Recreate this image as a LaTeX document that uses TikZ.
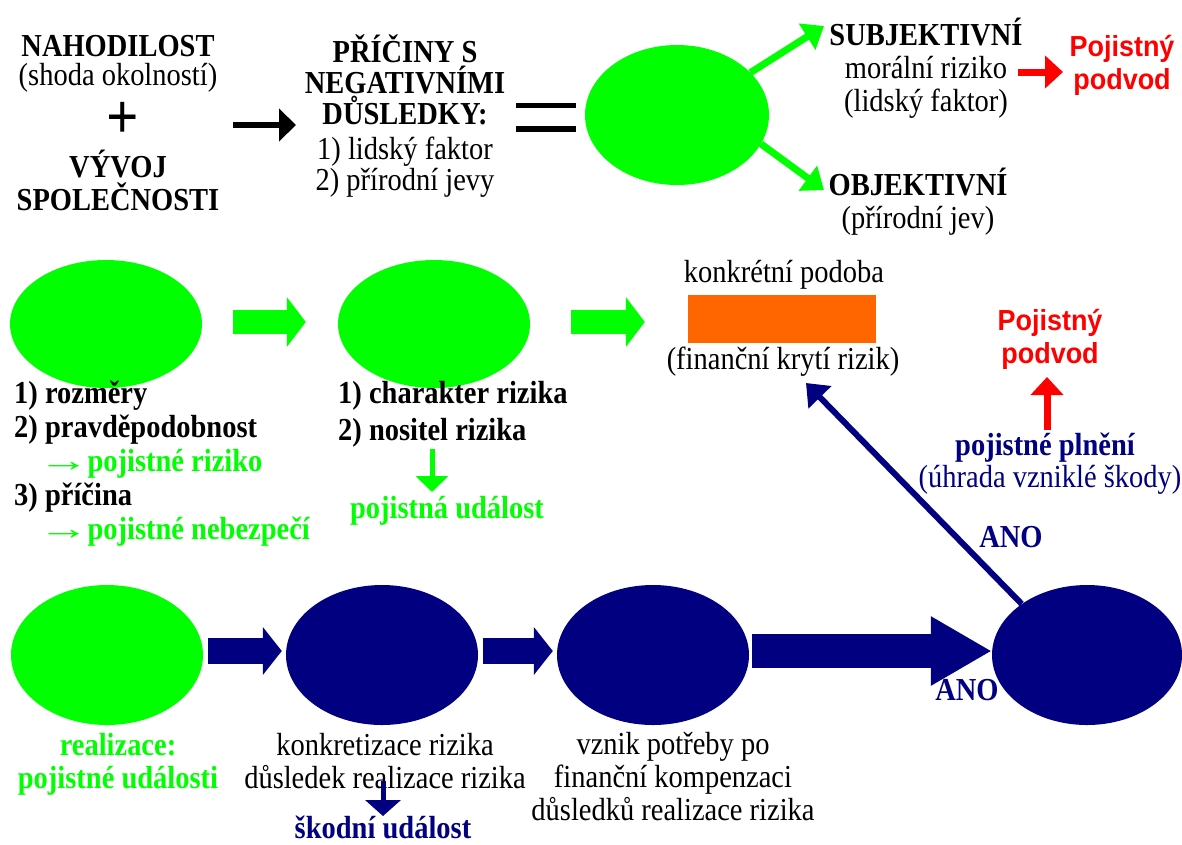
\documentclass[tikz,border=0pt]{standalone}
\usepackage{fontspec}
\setmainfont{Liberation Serif}[FakeStretch=0.89]
\newfontfamily\arialfont{Liberation Sans}[FakeStretch=0.93]
\usetikzlibrary{arrows.meta,shapes.geometric}
\definecolor{lgreen}{HTML}{00FF00}
\definecolor{navyc}{HTML}{000080}
\definecolor{redc}{HTML}{FF0000}
\definecolor{orangec}{HTML}{FF6600}
\newcommand{\longarr}{\scalebox{1.8}[1.0]{\mdseries →}\hspace*{-9pt}}
\tikzset{
  txt/.style={inner sep=0pt, align=center, font=\fontsize{32}{33}\selectfont},
  btxt/.style={inner sep=0pt, align=center, font=\fontsize{32}{33}\selectfont\bfseries},
  redtxt/.style={inner sep=0pt, align=center, text=redc, font=\fontsize{29}{33}\selectfont\arialfont\bfseries},
  gell/.style={ellipse, fill=lgreen, minimum width=192pt, minimum height=138pt, inner sep=0pt},
  nell/.style={ellipse, fill=navyc, minimum width=192pt, minimum height=140pt, inner sep=0pt},
  blackarrow/.style={line width=6pt, -{Triangle[length=17pt,width=32pt]}},
  garrow/.style={line width=7pt, lgreen, -{Triangle[length=20pt,width=30pt]}},
  redarrow/.style={line width=7pt, redc, -{Triangle[length=18pt,width=32pt]}},
  gblock/.style={line width=24pt, lgreen, -{Triangle[length=19pt,width=49pt]}},
  nblock/.style={line width=26pt, navyc, -{Triangle[length=19pt,width=47pt]}},
  nbig/.style={line width=34pt, navyc, -{Triangle[length=61pt,width=65pt]}},
  nline/.style={line width=6pt, navyc, -{Triangle[length=20pt,width=31pt]}},
  gthin/.style={line width=5pt, lgreen, -{Triangle[length=16pt,width=32pt]}},
  nthin/.style={line width=5pt, navyc, -{Triangle[length=16pt,width=35pt]}},
  eqbar/.style={line width=5.5pt}
}
\begin{document}
\begin{tikzpicture}[x=1pt,y=-1pt]
\useasboundingbox[fill=white] (0,0) rectangle (1182,844);

% ---- row 1
\node[txt] (nah) at (118,64) {\textbf{NAHODILOST}\\[-4pt](shoda okolností)};
\node[inner sep=0pt, font=\fontsize{64}{64}\selectfont\bfseries] (plus) at (123,120) {+};
\node[btxt] (vyv) at (118,180) {VÝVOJ\\SPOLEČNOSTI};
\node[txt, font=\fontsize{32}{31}\selectfont] (pric) at (405,116) {\textbf{PŘÍČINY S}\\\textbf{NEGATIVNÍMI}\\\textbf{DŮSLEDKY:}\\[4pt]1) lidský faktor\\2) přírodní jevy};
\coordinate (ba1) at (233,125);
\coordinate (ba2) at (296,125);
\draw[blackarrow] (ba1) -- (ba2);
\coordinate (eq1a) at (516,105.5); \coordinate (eq1b) at (576,105.5);
\coordinate (eq2a) at (516,129); \coordinate (eq2b) at (576,129);
\draw[eqbar] (eq1a) -- (eq1b);
\draw[eqbar] (eq2a) -- (eq2b);
\node[gell, minimum width=184pt, minimum height=140pt] (e0) at (677,115) {};
\node[txt] (subj) at (926,68) {\textbf{SUBJEKTIVNÍ}\\morální riziko\\(lidský faktor)};
\node[txt] (obj) at (918,202) {\textbf{OBJEKTIVNÍ}\\(přírodní jev)};
\node[redtxt] (pod1) at (1122,65) {Pojistný\\podvod};
\coordinate (gt1) at (824,26);
\coordinate (gt2) at (824,190);
\draw[garrow] (e0.30) -- (gt1);
\draw[garrow] (e0.-19) -- (gt2);
\coordinate (ra1) at (1018,72);
\coordinate (ra2) at (1063,72);
\draw[redarrow] (ra1) -- (ra2);

% ---- row 2
\node[gell, minimum height=128pt] (r2a) at (106,324) {};
\node[gell, minimum height=128pt] (r2b) at (434,324) {};
\node[fill=orangec, minimum width=188pt, minimum height=48pt, inner sep=0pt] (rect) at (782,319) {};
\node[txt] (konk) at (784,275) {konkrétní podoba};
\node[txt] (fin) at (783,362) {(finanční krytí rizik)};
\draw[gblock, shorten <=31pt, shorten >=32pt] ([yshift=2pt]r2a.east) -- ([yshift=2pt]r2b.west);
\draw[gblock, shorten <=41pt, shorten >=43pt] ([yshift=2pt]r2b.east) -- ([yshift=2pt]r2b.east -| rect.west);
\node[btxt, align=left, anchor=north west, font=\fontsize{32}{34}\selectfont\bfseries] (list1) at (14,381)
  {1) rozměry\\2) pravděpodobnost\\\hspace*{24pt}\textcolor{lgreen}{\longarr{} pojistné riziko}\\3) příčina\\\hspace*{24pt}\textcolor{lgreen}{\longarr{} pojistné nebezpečí}};
\node[btxt, align=left, anchor=north west] (list2) at (338,381) {1) charakter rizika\\[4pt]2) nositel rizika};
\node[btxt, text=lgreen] (pud) at (447,511) {pojistná událost};
\coordinate (ga1) at (432,449);
\coordinate (ga2) at (432,492);
\draw[gthin] (ga1) -- (ga2);
\node[redtxt] (pod2) at (1050,339) {Pojistný\\podvod};
\node[btxt, text=navyc] (plneni) at (1045,448) {pojistné plnění};
\node[txt, text=navyc] (uhrada) at (1050,480) {(úhrada vzniklé škody)};
\coordinate (ra3) at (1047,430);
\coordinate (ra4) at (1047,377);
\draw[redarrow] (ra3) -- (ra4);

% ---- row 3
\node[gell, minimum height=140pt] (r3a) at (107,655) {};
\node[nell] (r3b) at (382,655) {};
\node[nell] (r3c) at (653,655) {};
\node[nell, minimum width=190pt] (r3d) at (1087,655) {};
\draw[nblock, shorten <=5pt, shorten >=4pt] ([yshift=4pt]r3a.east) -- ([yshift=4pt]r3b.west);
\draw[nblock, shorten <=5pt, shorten >=4pt] ([yshift=4pt]r3b.east) -- ([yshift=4pt]r3c.west);
\draw[nbig, shorten <=3pt] ([yshift=4pt]r3c.east) -- ([yshift=4pt]r3d.west);
\node[btxt, text=navyc] (ano1) at (967,690) {ANO};
\node[btxt, text=navyc] (ano2) at (1011,537) {ANO};
\coordinate (ft) at (806,383);
\draw[nline] (r3d.142) -- (ft);
\node[btxt, text=lgreen] (real) at (118,764) {realizace:\\pojistné události};
\node[txt] (konkr) at (385,761) {konkretizace rizika\\důsledek realizace rizika};
\node[txt] (vznik) at (673,777) {vznik potřeby po\\finanční kompenzaci\\důsledků realizace rizika};
\node[btxt, text=navyc] (skod) at (383,827) {škodní událost};
\coordinate (na1) at (383,781);
\coordinate (na2) at (383,816);
\draw[nthin] (na1) -- (na2);
\end{tikzpicture}
\end{document}
